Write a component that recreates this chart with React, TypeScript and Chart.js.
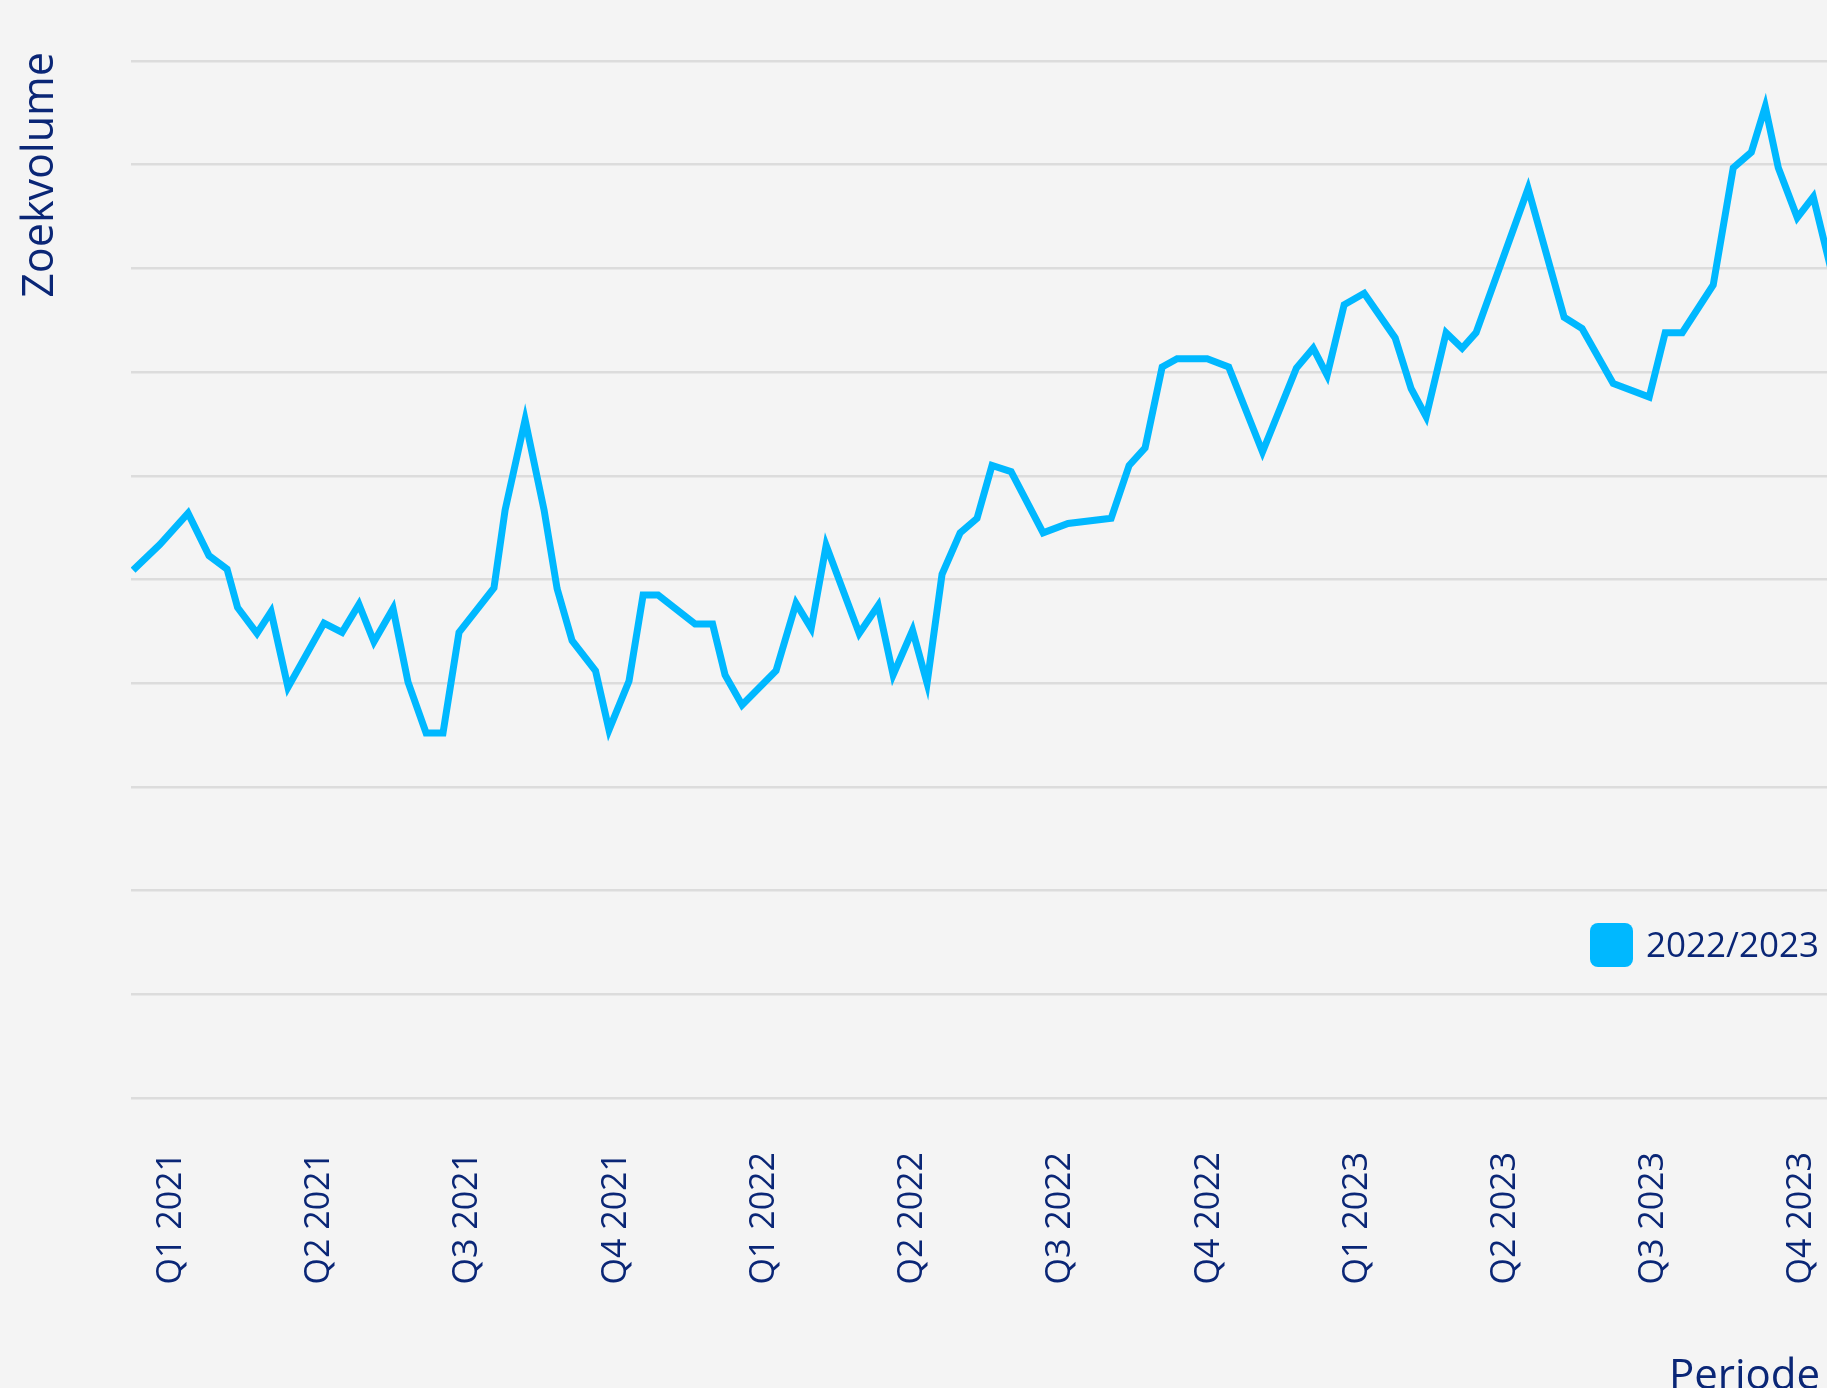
import React, { useEffect, useRef } from "react";
import { Chart, registerables } from "chart.js";

Chart.register(...registerables);

// Tick labels (one per quarter, starting at Q1 2021 = 0)
const quarterLabels = [
  "Q1 2021", "Q2 2021", "Q3 2021", "Q4 2021",
  "Q1 2022", "Q2 2022", "Q3 2022", "Q4 2022",
  "Q1 2023", "Q2 2023", "Q3 2023", "Q4 2023",
];

// Position of each observation, in quarters since the start of Q1 2021
const periods = [
  -0.258, -0.076, 0.113, 0.254, 0.376, 0.447, 0.578, 0.673, 0.787, 1.030,
  1.152, 1.266, 1.367, 1.496, 1.597, 1.719, 1.833, 1.941, 2.177, 2.252,
  2.387, 2.515, 2.603, 2.704, 2.862, 2.953, 3.088, 3.183, 3.284, 3.534,
  3.652, 3.736, 3.851, 4.080, 4.215, 4.317, 4.418, 4.641, 4.769, 4.870,
  5.001, 5.099, 5.200, 5.322, 5.436, 5.537, 5.666, 5.882, 6.050, 6.341,
  6.462, 6.570, 6.685, 6.786, 6.989, 7.134, 7.362, 7.591, 7.704, 7.798,
  7.913, 8.048, 8.257, 8.365, 8.466, 8.601, 8.709, 8.803, 9.154, 9.397,
  9.518, 9.728, 9.971, 10.079, 10.194, 10.403, 10.538, 10.660, 10.754, 10.842,
  10.970, 11.078, 11.256,
];

// Search volume (relative index)
const volumes = [
  50.9, 53.4, 56.4, 52.3, 51.0, 47.3, 44.8, 46.9, 39.6, 45.8,
  44.9, 47.6, 44.0, 47.2, 40.1, 35.2, 35.2, 44.9, 49.2, 56.7,
  65.4, 56.7, 49.1, 44.1, 41.2, 35.5, 40.2, 48.5, 48.5, 45.7,
  45.7, 40.8, 37.9, 41.2, 47.7, 45.3, 53.3, 44.8, 47.5, 40.8,
  45.1, 40.0, 50.5, 54.5, 55.9, 61.0, 60.4, 54.5, 55.4, 55.9,
  61.0, 62.7, 70.5, 71.3, 71.3, 70.5, 62.3, 70.4, 72.3, 69.7,
  76.5, 77.6, 73.3, 68.4, 65.7, 73.8, 72.3, 73.8, 87.7, 75.3,
  74.2, 68.9, 67.6, 73.8, 73.8, 78.4, 89.7, 91.2, 95.6, 89.7,
  84.9, 86.9, 76.5,
];

const seriesLabel = "2022/2023";
const yTitle = "Zoekvolume";
const xTitle = "Periode";

const NAVY = "#0a2676";
const LINE = "#00b8ff";
const GRID = "#dcdcdc";
const BG = "#f4f4f4";
const FONT = '"Open Sans", "Noto Sans", sans-serif';

const legendPlugin = {
  id: "insideLegend",
  afterDraw(chart: any) {
    const ctx = chart.ctx as CanvasRenderingContext2D;
    const ds = chart.data.datasets[0];
    ctx.save();
    ctx.fillStyle = ds.borderColor;
    ctx.beginPath();
    (ctx as any).roundRect(1590, 923, 43, 44, 8);
    ctx.fill();
    ctx.font = `35px ${FONT}`;
    ctx.fillStyle = NAVY;
    ctx.textBaseline = "alphabetic";
    ctx.textAlign = "left";
    ctx.fillText(ds.label, 1646, 957);
    ctx.restore();
  },
};

const isWhole = (v: number) => Math.abs(v - Math.round(v)) < 1e-6;

export default function App() {
  const ref = useRef<HTMLCanvasElement | null>(null);

  useEffect(() => {
    if (!ref.current) return;
    const points = periods.map((p, i) => ({ x: p, y: volumes[i] }));
    const chart = new Chart(ref.current, {
      type: "line",
      data: {
        datasets: [
          {
            label: seriesLabel,
            data: points,
            borderColor: LINE,
            backgroundColor: LINE,
            borderWidth: 7,
            pointRadius: 0,
            tension: 0,
            fill: false,
          },
        ],
      },
      options: {
        animation: false,
        responsive: false,
        maintainAspectRatio: false,
        layout: { padding: { top: 52, left: 0, right: 0, bottom: 0 } },
        plugins: {
          legend: { display: false },
          tooltip: { enabled: false },
        },
        scales: {
          x: {
            type: "linear",
            min: -0.272,
            max: 21.5,
            grid: { display: false, drawTicks: true, tickLength: 51 },
            border: { display: false },
            ticks: {
              stepSize: 1,
              autoSkip: false,
              minRotation: 90,
              maxRotation: 90,
              padding: 3,
              color: NAVY,
              font: { family: FONT, size: 34 },
              callback: (v: any) => {
                const n = Number(v);
                return isWhole(n) && quarterLabels[Math.round(n)] ? quarterLabels[Math.round(n)] : "";
              },
            },
            afterBuildTicks: (s: any) => {
              s.ticks = s.ticks.filter((t: any) => isWhole(t.value));
            },
            title: {
              display: true,
              text: xTitle,
              color: NAVY,
              font: { family: FONT, size: 42 },
              padding: { top: 4, bottom: 4 },
            },
            afterFit: (s: any) => {
              s.height = 308;
            },
          },
          y: {
            type: "linear",
            min: 0,
            max: 100.87,
            bounds: "data",
            grid: { color: GRID, lineWidth: 2.5, drawTicks: false },
            border: { display: false },
            ticks: { display: false, stepSize: 10, includeBounds: false },
            title: {
              display: true,
              text: yTitle,
              align: "end",
              color: NAVY,
              font: { family: FONT, size: 43 },
              padding: { top: 15, bottom: 0 },
            },
            afterFit: (s: any) => {
              s.width = 131;
            },
          },
        },
      },
      plugins: [legendPlugin],
    });
    return () => chart.destroy();
  }, []);

  return (
    <div
      style={{
        position: "fixed",
        left: 0,
        top: 0,
        width: 1827,
        height: 1388,
        overflow: "hidden",
        background: BG,
      }}
    >
      <canvas ref={ref} width={3358} height={1406} style={{ display: "block" }} />
    </div>
  );
}
